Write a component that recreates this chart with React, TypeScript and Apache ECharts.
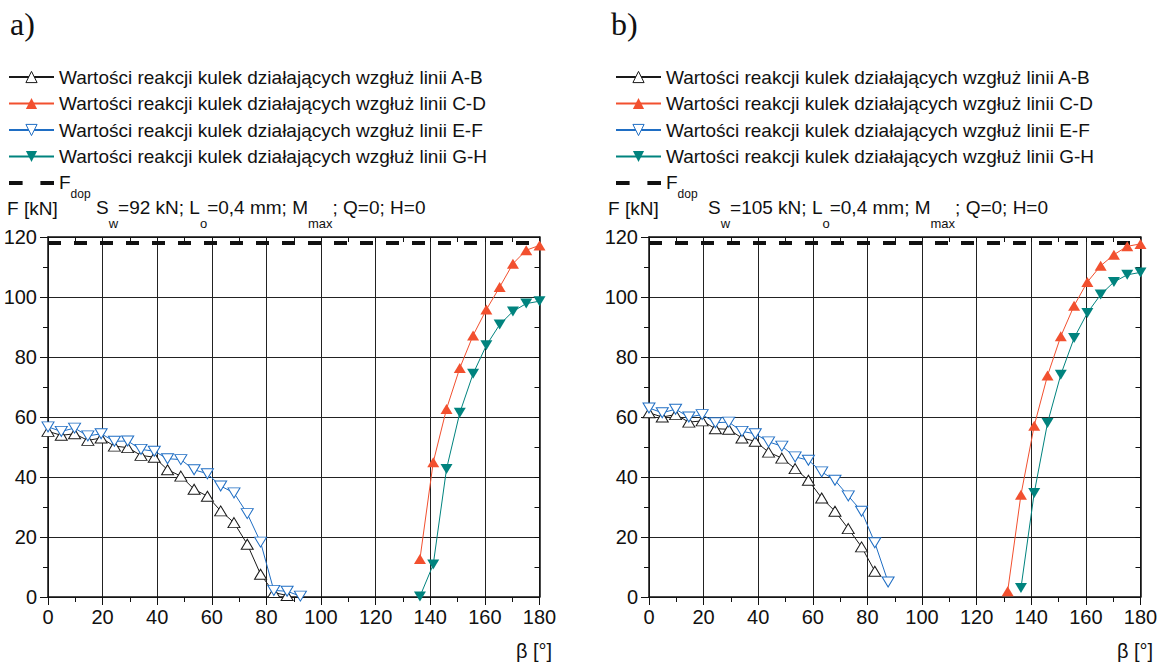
import React, { useEffect, useRef } from 'react';
import * as echarts from 'echarts';

// β positions of the balls (deg)
const BETA_LOW = [0, 4.86, 9.73, 14.59, 19.46, 24.32, 29.19, 34.05, 38.92, 43.78, 48.65, 53.51, 58.38, 63.24, 68.11, 72.97, 77.84, 82.7, 87.57, 92.43];
const BETA_HIGH = [131.35, 136.22, 141.08, 145.95, 150.81, 155.68, 160.54, 165.41, 170.27, 175.14, 180];
const X_TICKS = [0, 20, 40, 60, 80, 100, 120, 140, 160, 180];
const Y_TICKS = [0, 20, 40, 60, 80, 100, 120];

// chart a)
const AB_A = [55.2, 53.9, 54.4, 52.2, 53.0, 50.3, 49.8, 47.2, 46.6, 42.4, 40.3, 35.9, 33.6, 28.7, 24.8, 17.6, 7.6, 1.5, 0.5];
const EF_A = [56.7, 55.2, 56.3, 53.7, 54.4, 51.9, 52.0, 49.2, 48.6, 46.1, 45.8, 42.4, 41.1, 37.0, 34.7, 27.8, 18.3, 2.2, 1.9, 0.3];
const CD_A = [12.7, 44.9, 62.7, 76.3, 87.2, 95.8, 103.3, 111.1, 115.6, 117.2];
const GH_A = [0.2, 10.8, 42.7, 61.4, 74.4, 83.9, 90.8, 95.2, 97.8, 98.6];

// chart b)
const AB_B = [61.4, 60.0, 60.8, 58.3, 58.7, 56.1, 55.9, 53.0, 51.9, 48.3, 46.3, 42.8, 38.9, 33.0, 28.6, 22.8, 16.7, 8.6];
const EF_B = [63.0, 61.4, 62.6, 60.0, 60.8, 58.1, 58.3, 55.2, 54.4, 51.7, 50.3, 46.7, 45.6, 41.7, 38.9, 33.7, 28.6, 18.1, 5.0];
const CD_B = [1.9, 34.1, 57.1, 73.8, 86.9, 97.1, 105.0, 110.4, 114.1, 116.9, 117.7];
const GH_B = [3.0, 34.7, 58.0, 74.1, 86.3, 94.7, 100.8, 105.0, 107.4, 108.2];

const F_DOP = 118;

const NAME_AB = 'Wartości reakcji kulek działających wzgłuż linii A-B';
const NAME_CD = 'Wartości reakcji kulek działających wzgłuż linii C-D';
const NAME_EF = 'Wartości reakcji kulek działających wzgłuż linii E-F';
const NAME_GH = 'Wartości reakcji kulek działających wzgłuż linii G-H';
const NAME_FDOP = 'Fdop';

const SW = ['92', '105'];

const C_BLACK = '#1a1a1a';
const C_RED = '#f2502f';
const C_BLUE = '#1f6ec4';
const C_TEAL = '#00837e';
const FONT = 'Liberation Sans, Arial, sans-serif';

function pairs(xs: number[], ys: number[]) {
  return ys.map((y, i) => [xs[i], y]);
}

function mk(name: string, color: string, filled: boolean, down: boolean, xs: number[], ys: number[], gi: number) {
  return {
    type: 'line',
    name,
    xAxisIndex: gi * 2,
    yAxisIndex: gi * 2,
    data: pairs(xs, ys),
    symbol: 'triangle',
    symbolSize: [12, 10],
    symbolRotate: down ? 180 : 0,
    showSymbol: true,
    clip: false,
    z: 3,
    lineStyle: { color, width: 1 },
    itemStyle: filled ? { color } : { color: '#fff', borderColor: color, borderWidth: 1 },
  };
}

function fdop(gi: number) {
  return {
    type: 'line',
    name: NAME_FDOP,
    xAxisIndex: gi * 2,
    yAxisIndex: gi * 2,
    data: [[X_TICKS[0], F_DOP], [X_TICKS[X_TICKS.length - 1], F_DOP]],
    symbol: 'none',
    clip: false,
    z: 2,
    lineStyle: { color: '#111', width: 4, type: [13, 13] },
    itemStyle: { color: '#111' },
  };
}

function bottomX(gi: number) {
  return {
    type: 'value', gridIndex: gi, position: 'bottom',
    min: X_TICKS[0], max: X_TICKS[X_TICKS.length - 1], interval: 20,
    axisLine: { show: true, onZero: false, lineStyle: { color: '#111', width: 1.5 } },
    axisTick: { show: true, length: 8, lineStyle: { color: '#111', width: 1 } },
    minorTick: { show: true, splitNumber: 2, length: 5, lineStyle: { color: '#111', width: 1 } },
    splitLine: { show: true, lineStyle: { color: '#222', width: 1 } },
    axisLabel: { color: '#111', fontSize: 20, fontFamily: FONT, margin: 10 },
  };
}
function topX(gi: number) {
  return {
    type: 'value', gridIndex: gi, position: 'top',
    min: X_TICKS[0], max: X_TICKS[X_TICKS.length - 1], interval: 20,
    axisLine: { show: true, onZero: false, lineStyle: { color: '#111', width: 1.5 } },
    axisTick: { show: true, inside: true, length: 5, lineStyle: { color: '#111', width: 1 } },
    minorTick: { show: true, splitNumber: 2, length: 5, lineStyle: { color: '#111', width: 1 } },
    splitLine: { show: false },
    axisLabel: { show: false },
  };
}
function leftY(gi: number) {
  return {
    type: 'value', gridIndex: gi, position: 'left',
    min: Y_TICKS[0], max: Y_TICKS[Y_TICKS.length - 1], interval: 20,
    axisLine: { show: true, onZero: false, lineStyle: { color: '#111', width: 1.5 } },
    axisTick: { show: true, length: 8, lineStyle: { color: '#111', width: 1 } },
    minorTick: { show: true, splitNumber: 2, length: 5, lineStyle: { color: '#111', width: 1 } },
    splitLine: { show: true, lineStyle: { color: '#222', width: 1 } },
    axisLabel: { color: '#111', fontSize: 20, fontFamily: FONT, margin: 11 },
  };
}
function rightY(gi: number) {
  return {
    type: 'value', gridIndex: gi, position: 'right',
    min: Y_TICKS[0], max: Y_TICKS[Y_TICKS.length - 1], interval: 20,
    axisLine: { show: true, onZero: false, lineStyle: { color: '#111', width: 1.5 } },
    axisTick: { show: true, inside: true, length: 5, lineStyle: { color: '#111', width: 1 } },
    minorTick: { show: true, splitNumber: 2, length: 5, lineStyle: { color: '#111', width: 1 } },
    splitLine: { show: false },
    axisLabel: { show: false },
  };
}

const RICH = {
  m: { fontSize: 19, lineHeight: 20, fontFamily: FONT, color: '#111', verticalAlign: 'top' },
  s: { fontSize: 12, lineHeight: 12, fontFamily: FONT, color: '#111', verticalAlign: 'top', padding: [15, 0, 0, 0] },
  s2: { fontSize: 13, lineHeight: 13, fontFamily: FONT, color: '#111', verticalAlign: 'top', padding: [19, 0, 0, 0] },
};

function legend(left: number) {
  return {
    orient: 'vertical',
    left,
    top: 67,
    padding: 0,
    itemWidth: 45,
    itemHeight: 14,
    itemGap: 6.5,
    selectedMode: false,
    itemStyle: { borderWidth: 1 },
    textStyle: { fontSize: 19, lineHeight: 20, fontFamily: FONT, color: '#111', rich: RICH },
    formatter: (name: string) => (name === NAME_FDOP ? '{m|F}{s|dop}' : name),
    data: [
      { name: NAME_AB },
      { name: NAME_CD },
      { name: NAME_EF },
      { name: NAME_GH },
      { name: NAME_FDOP, icon: 'path://M0,0h13v4h-13z M30,0h13v4h-13z' },
    ],
  };
}

function texts(dx: number, label: string, sw: string) {
  return [
    { type: 'text', left: 10 + dx, top: 8, style: { text: label, font: '32px "Liberation Serif", "Times New Roman", serif', fill: '#111' } },
    { type: 'text', x: 7 + dx, y: 208, style: { text: 'F [kN]', font: `19px ${FONT}`, fill: '#111', textVerticalAlign: 'middle' } },
    {
      type: 'text', x: 96 + dx + (sw.length - 2) * 11, y: 198,
      style: {
        text: `{m|S}{s2|w}{m|=${sw} kN; L}{s2|o}{m|=0,4 mm; M}{s2|max}{m|; Q=0; H=0}`,
        rich: RICH, fill: '#111', textVerticalAlign: 'top',
      },
    },
    { type: 'text', x: 534 + dx, y: 651, style: { text: 'β [°]', font: `20px ${FONT}`, fill: '#111', textAlign: 'center', textVerticalAlign: 'middle' } },
  ];
}

export default function App() {
  const ref = useRef<HTMLDivElement>(null);
  useEffect(() => {
    document.body.style.margin = '0';
    const chart = echarts.init(ref.current as HTMLDivElement, null, { renderer: 'svg' });
    const option: any = {
      animation: false,
      backgroundColor: '#fff',
      grid: [
        { left: 48, top: 237, width: 491.5, height: 360 },
        { left: 649, top: 237, width: 491.5, height: 360 },
      ],
      xAxis: [bottomX(0), topX(0), bottomX(1), topX(1)],
      yAxis: [leftY(0), rightY(0), leftY(1), rightY(1)],
      legend: [legend(8), legend(615)],
      graphic: [...texts(0, 'a)', SW[0]), ...texts(601, 'b)', SW[1])],
      series: [
        fdop(0),
        mk(NAME_AB, C_BLACK, false, false, BETA_LOW, AB_A, 0),
        mk(NAME_CD, C_RED, true, false, BETA_HIGH.slice(1), CD_A, 0),
        mk(NAME_EF, C_BLUE, false, true, BETA_LOW, EF_A, 0),
        mk(NAME_GH, C_TEAL, true, true, BETA_HIGH.slice(1), GH_A, 0),
        fdop(1),
        mk(NAME_AB, C_BLACK, false, false, BETA_LOW, AB_B, 1),
        mk(NAME_CD, C_RED, true, false, BETA_HIGH, CD_B, 1),
        mk(NAME_EF, C_BLUE, false, true, BETA_LOW, EF_B, 1),
        mk(NAME_GH, C_TEAL, true, true, BETA_HIGH.slice(1), GH_B, 1),
      ],
    };
    chart.setOption(option);
    return () => chart.dispose();
  }, []);
  return <div ref={ref} style={{ width: 1161, height: 664 }} />;
}
